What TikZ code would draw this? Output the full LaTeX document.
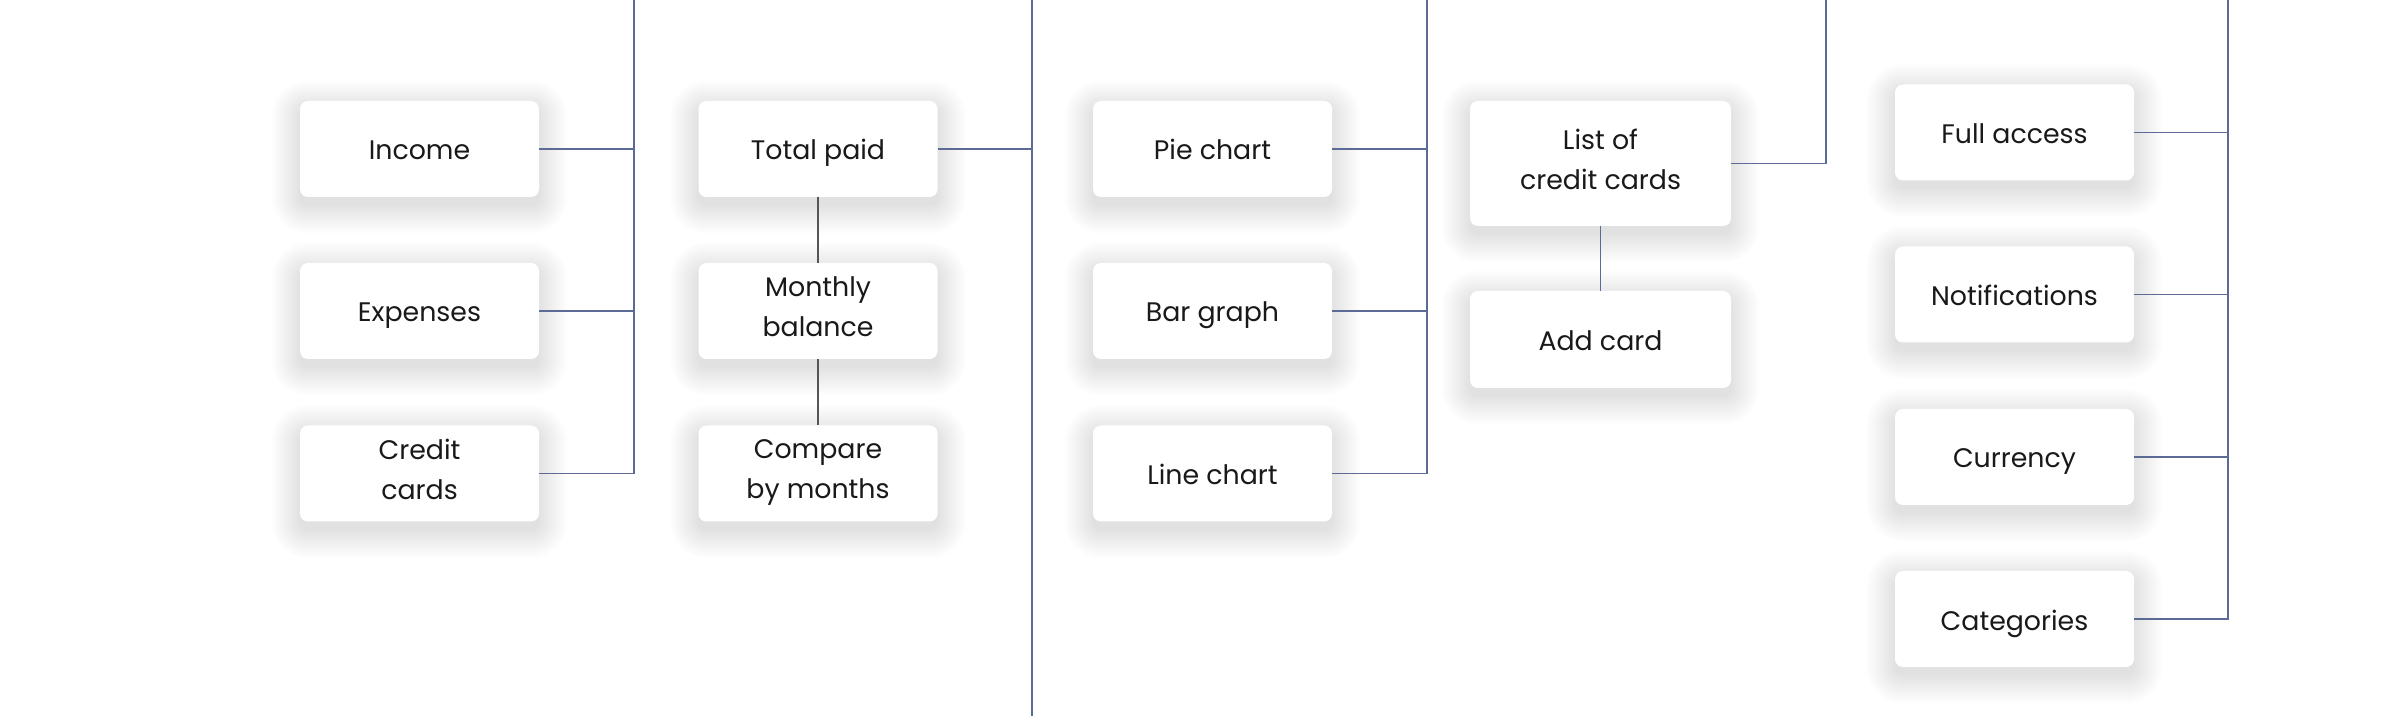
\documentclass[tikz,border=0pt]{standalone}
\usepackage{fontspec}
\setmainfont{Poppins}
\pgfdeclarelayer{bg}
\pgfsetlayers{bg,main}
\definecolor{linkblue}{RGB}{92,106,150}
\definecolor{linkgray}{RGB}{85,85,85}
\definecolor{txt}{RGB}{25,25,25}
\newcommand{\cardstrut}{\vrule width 0pt height 15.5pt depth 4.5pt\relax}
\newcommand{\cardendstrut}{\vrule width 0pt height 0pt depth 1.5pt\relax}
\tikzset{
  card/.style={draw=none, fill=white, rounded corners=4pt, minimum width=119.5pt, minimum height=48pt,
    align=center, text=txt, font=\fontsize{13.4}{20}\selectfont, inner sep=0pt,
    execute at begin node=\cardstrut, execute at end node=\cardendstrut},
  widecard/.style={card, minimum width=130.5pt},
  link/.style={draw=linkblue, line width=0.55pt},
  sublink/.style={draw=linkgray, line width=0.6pt},
}
\begin{document}
\begin{tikzpicture}[x=0.5pt,y=-0.5pt]
\useasboundingbox (0,0) rectangle (2400,716);
% column 1
\node[card] (income) at (419.5,149) {Income};
\node[card] (expenses) at (419.5,311) {Expenses};
\node[card] (credit) at (419.5,473.5) {Credit\\cards};
% column 2
\node[card] (total) at (818,149) {Total paid};
\node[card] (monthly) at (818,311) {Monthly\\balance};
\node[card] (compare) at (818,473.5) {Compare\\by months};
% column 3
\node[card] (pie) at (1212.5,149) {Pie chart};
\node[card] (bar) at (1212.5,311) {Bar graph};
\node[card] (line) at (1212.5,473.5) {Line chart};
% column 4
\node[widecard, minimum height=62.5pt] (list) at (1600.5,163.5) {List of\\credit cards};
\node[widecard, minimum height=48.5pt] (add) at (1600.5,339.5) {Add card};
% column 5
\node[card] (full) at (2014.5,132.5) {Full access};
\node[card] (notif) at (2014.5,294.5) {Notifications};
\node[card] (curr) at (2014.5,457) {Currency};
\node[card] (cat) at (2014.5,619) {Categories};
% background and soft shadows
\begin{pgfonlayer}{bg}
\fill[white] (0,0) rectangle (2400,716);
\foreach \n in {income,expenses,credit,total,monthly,compare,pie,bar,line,list,add,full,notif,curr,cat}{
  \foreach \k in {0,...,14}{
    \pgfmathsetmacro{\rr}{4+\k}
    \fill[black, opacity=0.006, rounded corners=\rr pt]
      ([xshift=-\k pt, yshift=-\k pt-4pt]\n.south west) rectangle ([xshift=\k pt, yshift=\k pt-4pt]\n.north east);
  }
}
\end{pgfonlayer}
% trunks
\coordinate (t1) at (634,0);
\coordinate (t2) at (1032,0);
\coordinate (t2b) at (1032,716);
\coordinate (t3) at (1427,0);
\coordinate (t4) at (1826,0);
\coordinate (t5) at (2228,0);
% column 1 links
\draw[link] (t1) |- (credit.east);
\draw[link] (income.east) -- (income.east -| t1);
\draw[link] (expenses.east) -- (expenses.east -| t1);
% column 2 links
\draw[link, line width=0.7pt] (t2) -- (t2b);
\draw[link] (total.east) -- (total.east -| t2);
\draw[sublink] (total.south) -- (monthly.north);
\draw[sublink] (monthly.south) -- (compare.north);
% column 3 links
\draw[link] (t3) |- (line.east);
\draw[link] (pie.east) -- (pie.east -| t3);
\draw[link] (bar.east) -- (bar.east -| t3);
% column 4 links
\draw[link] (list.east) -| (t4);
\draw[link] (list.south) -- (add.north);
% column 5 links
\draw[link] (t5) |- (cat.east);
\draw[link] (full.east) -- (full.east -| t5);
\draw[link] (notif.east) -- (notif.east -| t5);
\draw[link] (curr.east) -- (curr.east -| t5);
\end{tikzpicture}
\end{document}
